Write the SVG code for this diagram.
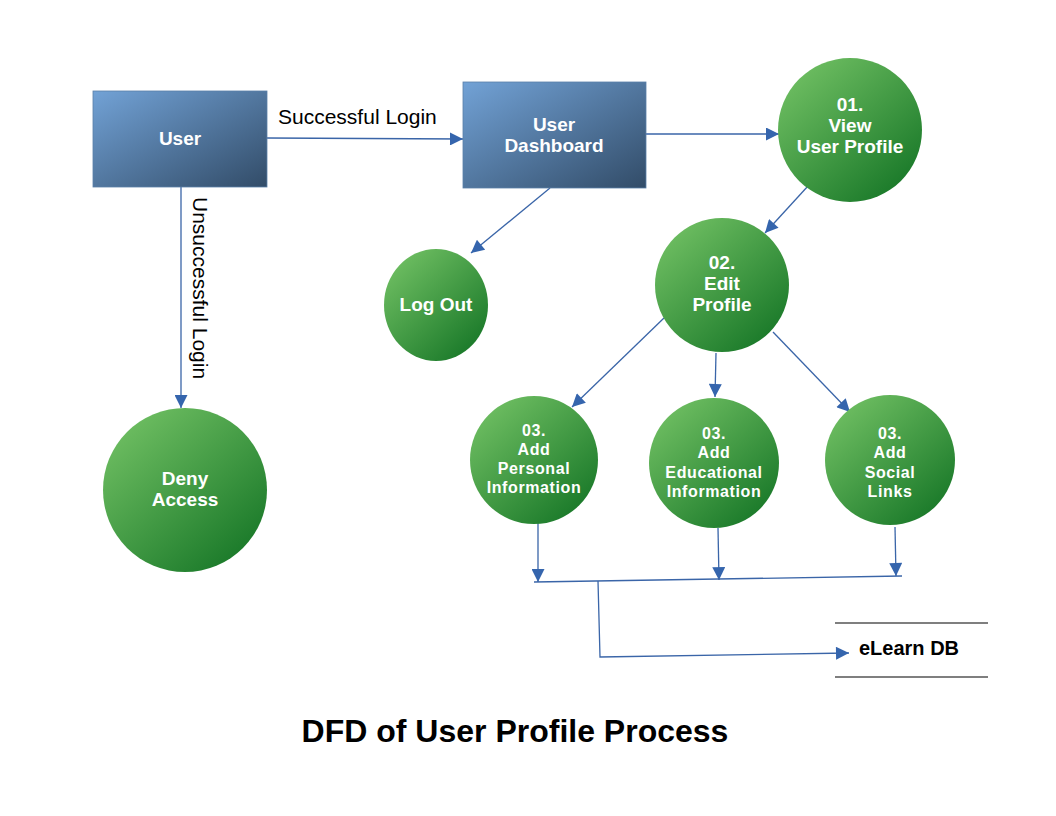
<svg xmlns="http://www.w3.org/2000/svg" width="1056" height="816" viewBox="0 0 1056 816">
<defs>
<linearGradient id="gBlue" x1="0" y1="0" x2="1" y2="1">
<stop offset="0" stop-color="#72a2d6"/>
<stop offset="1" stop-color="#324c68"/>
</linearGradient>
<linearGradient id="gGreen" x1="0.15" y1="0.1" x2="0.85" y2="0.9">
<stop offset="0" stop-color="#6cbc60"/>
<stop offset="1" stop-color="#1b7a2a"/>
</linearGradient>
<marker id="arr" viewBox="0 0 10 10" refX="10" refY="5" markerWidth="18" markerHeight="13" markerUnits="userSpaceOnUse" orient="auto">
<path d="M0,0 L10,5 L0,10 z" fill="#3565ad"/>
</marker>
<style>
.box{fill:url(#gBlue);stroke:#5a7fa8;stroke-width:0.8}
.proc{fill:url(#gGreen)}
.lbl{font-family:"Liberation Sans",Arial,sans-serif;font-weight:bold;fill:#ffffff;text-anchor:middle}
.con{stroke:#3a65a8;stroke-width:1.3;fill:none}
.edge{font-family:"Liberation Sans",Arial,sans-serif;font-size:21px;fill:#000}
.db{stroke:#000;stroke-width:1.2}
</style>
</defs>
<rect width="1056" height="816" fill="#ffffff"/>
<g id="connectors">
<line class="con" x1="267" y1="138" x2="463" y2="139" marker-end="url(#arr)"/>
<line class="con" x1="181" y1="187" x2="181" y2="408" marker-end="url(#arr)"/>
<line class="con" x1="646" y1="134" x2="779" y2="134" marker-end="url(#arr)"/>
<line class="con" x1="550" y1="188" x2="471" y2="253" marker-end="url(#arr)"/>
<line class="con" x1="808" y1="186" x2="765" y2="233" marker-end="url(#arr)"/>
<line class="con" x1="664" y1="318" x2="572" y2="407" marker-end="url(#arr)"/>
<line class="con" x1="716" y1="353" x2="715" y2="397" marker-end="url(#arr)"/>
<line class="con" x1="773" y1="332" x2="850" y2="412" marker-end="url(#arr)"/>
<line class="con" x1="538" y1="522" x2="538" y2="582" marker-end="url(#arr)"/>
<line class="con" x1="718" y1="528" x2="719" y2="580" marker-end="url(#arr)"/>
<line class="con" x1="895" y1="527" x2="896" y2="576" marker-end="url(#arr)"/>
<line class="con" x1="534" y1="582" x2="902" y2="576"/>
<polyline class="con" points="598,581 600,657 849,653" marker-end="url(#arr)"/>
<text class="edge" x="278" y="124">Successful Login</text>
<text class="edge" transform="translate(193,197) rotate(90)">Unsuccessful Login</text>
</g>
<g id="user">
<rect class="box" x="93" y="91" width="174" height="96"/>
<text class="lbl" x="180" y="145" font-size="19">User</text>
</g>
<g id="dashboard">
<rect class="box" x="463" y="82" width="183" height="106"/>
<text class="lbl" x="554" y="131" font-size="19">User</text>
<text class="lbl" x="554" y="152" font-size="19">Dashboard</text>
</g>
<g id="view-profile">
<circle class="proc" cx="850" cy="130" r="72"/>
<text class="lbl" x="850" y="111" font-size="19">01.</text>
<text class="lbl" x="850" y="132" font-size="19">View</text>
<text class="lbl" x="850" y="153" font-size="19">User Profile</text>
</g>
<g id="edit-profile">
<circle class="proc" cx="722" cy="285" r="67"/>
<text class="lbl" x="722" y="269" font-size="19">02.</text>
<text class="lbl" x="722" y="290" font-size="19">Edit</text>
<text class="lbl" x="722" y="311" font-size="19">Profile</text>
</g>
<g id="log-out">
<ellipse class="proc" cx="436" cy="305" rx="52" ry="56"/>
<text class="lbl" x="436" y="311" font-size="19">Log Out</text>
</g>
<g id="deny-access">
<circle class="proc" cx="185" cy="490" r="82"/>
<text class="lbl" x="185" y="485" font-size="19">Deny</text>
<text class="lbl" x="185" y="506" font-size="19">Access</text>
</g>
<g id="add-personal">
<circle class="proc" cx="534" cy="460" r="64"/>
<text class="lbl" x="534" y="436" font-size="16" letter-spacing="0.6">03.</text>
<text class="lbl" x="534" y="455" font-size="16" letter-spacing="0.6">Add</text>
<text class="lbl" x="534" y="474" font-size="16" letter-spacing="0.6">Personal</text>
<text class="lbl" x="534" y="493" font-size="16" letter-spacing="0.6">Information</text>
</g>
<g id="add-educational">
<circle class="proc" cx="714" cy="463" r="65"/>
<text class="lbl" x="714" y="439" font-size="16" letter-spacing="0.6">03.</text>
<text class="lbl" x="714" y="458" font-size="16" letter-spacing="0.6">Add</text>
<text class="lbl" x="714" y="478" font-size="16" letter-spacing="0.6">Educational</text>
<text class="lbl" x="714" y="497" font-size="16" letter-spacing="0.6">Information</text>
</g>
<g id="add-social">
<circle class="proc" cx="890" cy="460" r="65"/>
<text class="lbl" x="890" y="439" font-size="16" letter-spacing="0.6">03.</text>
<text class="lbl" x="890" y="458" font-size="16" letter-spacing="0.6">Add</text>
<text class="lbl" x="890" y="478" font-size="16" letter-spacing="0.6">Social</text>
<text class="lbl" x="890" y="497" font-size="16" letter-spacing="0.6">Links</text>
</g>
<g id="elearn-db">
<line class="db" x1="835" y1="623" x2="988" y2="623"/>
<line class="db" x1="835" y1="677" x2="988" y2="677"/>
<text x="859" y="655" font-family="Liberation Sans,Arial,sans-serif" font-weight="bold" font-size="20" fill="#000">eLearn DB</text>
</g>
<g id="title">
<text x="515" y="742" text-anchor="middle" font-family="Liberation Sans,Arial,sans-serif" font-weight="bold" font-size="32" fill="#000">DFD of User Profile Process</text>
</g>
</svg>
